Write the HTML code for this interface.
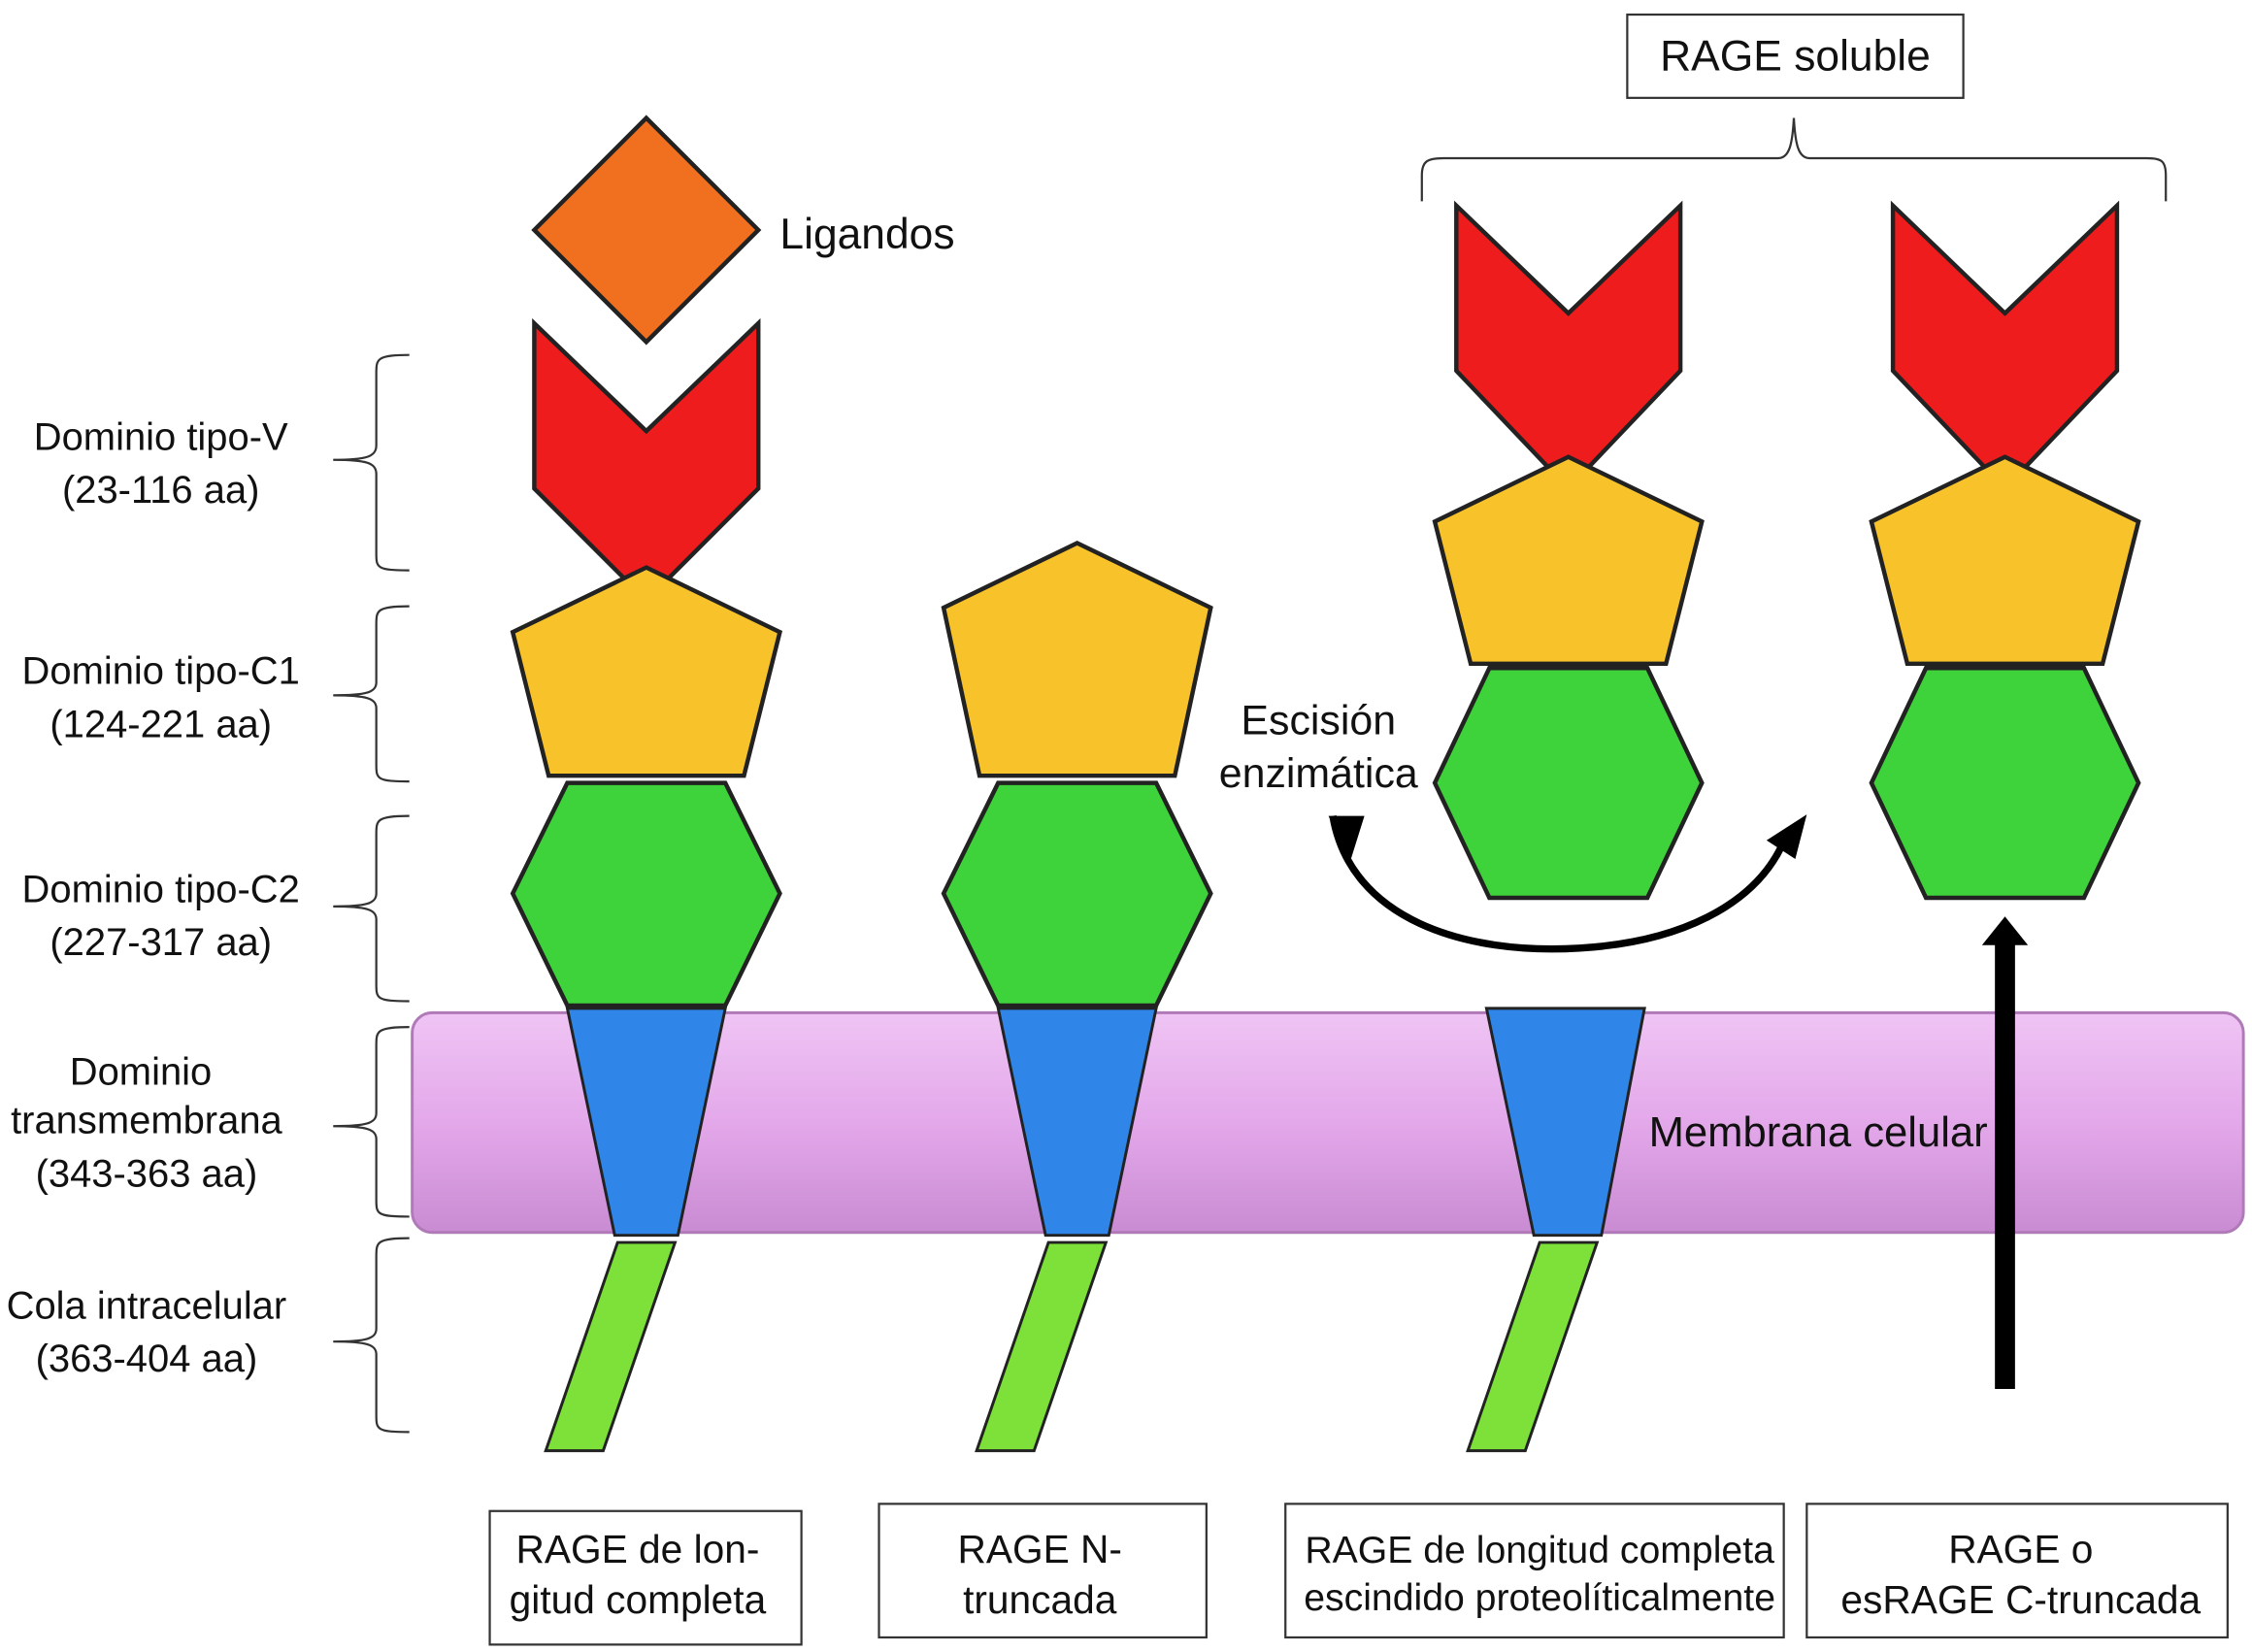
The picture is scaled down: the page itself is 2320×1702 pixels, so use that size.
<!DOCTYPE html>
<html><head><meta charset="utf-8"><style>
html,body{margin:0;padding:0;background:#fff;}
svg{display:block;}
text{font-family:"Liberation Sans",sans-serif;fill:#111;}
</style></head><body>
<svg width="2320" height="1702" viewBox="0 0 1568 1150" xmlns="http://www.w3.org/2000/svg">
<defs>
<linearGradient id="mem" x1="0" y1="0" x2="0" y2="1">
<stop offset="0" stop-color="#efc4f4"/><stop offset="0.5" stop-color="#e3a8ea"/><stop offset="1" stop-color="#c98bd2"/>
</linearGradient>
</defs>
<rect width="1568" height="1150" fill="#fff"/>
<rect x="287" y="705" width="1275" height="153" rx="14" fill="url(#mem)" stroke="#b07ab8" stroke-width="2"/>
<text x="1148" y="798" font-size="29.5">Membrana celular</text>

<polygon points="450,82 528,160 450,238 372,160" fill="#f07020" stroke="#222" stroke-width="3"/>
<text x="543" y="173" font-size="30">Ligandos</text>
<polygon points="372,225 450,300 528,225 528,340 450,418 372,340" fill="#ee1c1c" stroke="#222" stroke-width="3"/>
<polygon points="450,395 543,440 518,540 382,540 357,440" fill="#f7c22a" stroke="#222" stroke-width="3"/>
<polygon points="395,545 505,545 543,622 505,700 395,700 357,622" fill="#3ed33a" stroke="#222" stroke-width="3"/>
<polygon points="395,702 505,702 472,860 428,860" fill="#2f86e8" stroke="#222" stroke-width="2"/>
<polygon points="430,865 470,865 420,1010 380,1010" fill="#7ee13a" stroke="#222" stroke-width="2"/>

<polygon points="750,378 843,423 818,540 682,540 657,423" fill="#f7c22a" stroke="#222" stroke-width="3"/>
<polygon points="695,545 805,545 843,622 805,700 695,700 657,622" fill="#3ed33a" stroke="#222" stroke-width="3"/>
<polygon points="695,702 805,702 772,860 728,860" fill="#2f86e8" stroke="#222" stroke-width="2"/>
<polygon points="730,865 770,865 720,1010 680,1010" fill="#7ee13a" stroke="#222" stroke-width="2"/>

<polygon points="1014,143 1092,218 1170,143 1170,258 1092,340 1014,258" fill="#ee1c1c" stroke="#222" stroke-width="3"/>
<polygon points="1092,318 1185,363 1160,462 1024,462 999,363" fill="#f7c22a" stroke="#222" stroke-width="3"/>
<polygon points="1037,465 1147,465 1185,545 1147,625 1037,625 999,545" fill="#3ed33a" stroke="#222" stroke-width="3"/>
<polygon points="1035,702 1145,702 1115,860 1068,860" fill="#2f86e8" stroke="#222" stroke-width="2"/>
<polygon points="1072,865 1112,865 1062,1010 1022,1010" fill="#7ee13a" stroke="#222" stroke-width="2"/>

<polygon points="1318,143 1396,218 1474,143 1474,258 1396,340 1318,258" fill="#ee1c1c" stroke="#222" stroke-width="3"/>
<polygon points="1396,318 1489,363 1464,462 1328,462 1303,363" fill="#f7c22a" stroke="#222" stroke-width="3"/>
<polygon points="1341,465 1451,465 1489,545 1451,625 1341,625 1303,545" fill="#3ed33a" stroke="#222" stroke-width="3"/>
<rect x="1389" y="655" width="14" height="312" fill="#000"/>
<polygon points="1380,658 1396,638 1412,658" fill="#000"/>

<path d="M928,568 C940,640 1020,665 1100,660 C1170,656 1220,630 1240,590" fill="none" stroke="#000" stroke-width="5"/>
<polygon points="925,568 950,568 940,600" fill="#000"/>
<polygon points="1230,585 1258,567 1250,598" fill="#000"/>
<text x="918" y="511" font-size="29" text-anchor="middle">Escisión</text>
<text x="918" y="548" font-size="29" text-anchor="middle">enzimática</text>

<g font-size="27" text-anchor="middle">
<text x="112" y="313">Dominio tipo-V</text><text x="112" y="350">(23-116 aa)</text>
<text x="112" y="476">Dominio tipo-C1</text><text x="112" y="513">(124-221 aa)</text>
<text x="112" y="628">Dominio tipo-C2</text><text x="112" y="665">(227-317 aa)</text>
<text x="98" y="755">Dominio</text><text x="102" y="789">transmembrana</text><text x="102" y="826">(343-363 aa)</text>
<text x="102" y="918">Cola intracelular</text><text x="102" y="955">(363-404 aa)</text>
</g>
<g fill="none" stroke="#333" stroke-width="1.5">
<path d="M285,247 C262,247 262,250 262,260 L262,310 C262,318 255,320 232,320 C255,320 262,322 262,330 L262,385 C262,395 262,397 285,397"/>
<path d="M285,422 C262,422 262,425 262,435 L262,475 C262,482 255,484 232,484 C255,484 262,486 262,493 L262,532 C262,542 262,544 285,544"/>
<path d="M285,568 C262,568 262,571 262,581 L262,622 C262,629 255,631 232,631 C255,631 262,633 262,640 L262,685 C262,695 262,697 285,697"/>
<path d="M285,715 C262,715 262,718 262,728 L262,775 C262,782 255,784 232,784 C255,784 262,786 262,793 L262,835 C262,845 262,847 285,847"/>
<path d="M285,862 C262,862 262,865 262,875 L262,925 C262,932 255,934 232,934 C255,934 262,936 262,943 L262,985 C262,995 262,997 285,997"/>
<path d="M990,140 L990,122 C990,112 994,110 1005,110 L1238,110 C1246,110 1248,100 1249,82 C1250,100 1252,110 1260,110 L1495,110 C1505,110 1508,112 1508,122 L1508,140"/>
</g>

<rect x="1133" y="10" width="234" height="58" fill="#fff" stroke="#333" stroke-width="1.5"/>
<text x="1250" y="49" font-size="30" text-anchor="middle">RAGE soluble</text>

<g stroke="#333" stroke-width="1.5" fill="#fff">
<rect x="341" y="1052" width="217" height="93"/>
<rect x="612" y="1047" width="228" height="93"/>
<rect x="895" y="1047" width="347" height="93"/>
<rect x="1258" y="1047" width="293" height="93"/>
</g>
<g font-size="27.5" text-anchor="middle">
<text x="444" y="1088">RAGE de lon-</text><text x="444" y="1123">gitud completa</text>
<text x="724" y="1088">RAGE N-</text><text x="724" y="1123">truncada</text>
<text x="1072" y="1088" font-size="26.5">RAGE de longitud completa</text><text x="1072" y="1121" font-size="26.5">escindido proteolíticalmente</text>
<text x="1407" y="1088">RAGE o</text><text x="1407" y="1123">esRAGE C-truncada</text>
</g>
</svg>
</body></html>
